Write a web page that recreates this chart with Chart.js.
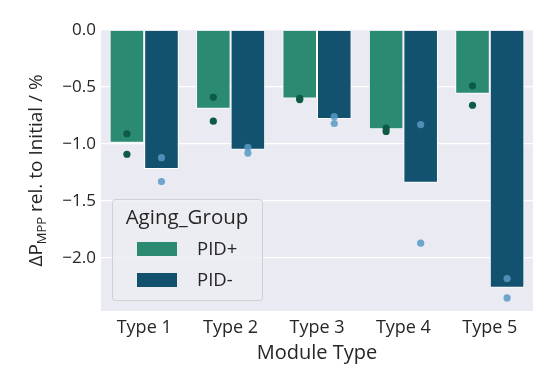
<!DOCTYPE html>
<html>
<head>
<meta charset="utf-8">
<script src="https://cdn.jsdelivr.net/npm/chart.js@4.4.1/dist/chart.umd.min.js"></script>
<style>
  html, body { margin: 0; padding: 0; background: #ffffff; }
  #wrap { position: relative; width: 554px; height: 375px; }
</style>
</head>
<body>
<div id="wrap"><canvas id="chart" width="554" height="375"></canvas></div>
<script>
const categories = ['Type 1', 'Type 2', 'Type 3', 'Type 4', 'Type 5'];
const groups = ['PID+', 'PID-'];
const pidPlusMean = [-0.99, -0.69, -0.60, -0.87, -0.56];
const pidMinusMean = [-1.22, -1.05, -0.78, -1.34, -2.26];
// individual modules per type
const pidPlusPoints = [[-0.91, -1.09], [-0.59, -0.80], [-0.60, -0.61], [-0.86, -0.89], [-0.49, -0.66]];
const pidMinusPoints = [[-1.12, -1.33], [-1.03, -1.08], [-0.76, -0.82], [-0.83, -1.87], [-2.18, -2.35]];
const yTicks = [0, -0.5, -1.0, -1.5, -2.0];

const FONT = "'Open Sans', 'Noto Sans', sans-serif";
const plusColor = '#2b8a72';
const minusColor = '#13526e';
const dotColors = ['#0d5b45', 'rgba(87,153,198,0.85)'];
const pointSets = [pidPlusPoints, pidMinusPoints];

const fmt = v => (v < 0 ? '\u2212' : '') + Math.abs(v).toFixed(1);

const plotBg = {
    id: 'plotBg',
    beforeDraw(chart) {
        const { ctx, chartArea: a } = chart;
        ctx.save();
        ctx.fillStyle = '#eaeaf2';
        ctx.fillRect(a.left, a.top, a.right - a.left, a.bottom - a.top);
        ctx.restore();
    }
};

// strip points, placed on each bar's x and the y scale
const stripDots = {
    id: 'stripDots',
    afterDatasetsDraw(chart) {
        const { ctx } = chart;
        const y = chart.scales.y;
        ctx.save();
        pointSets.forEach((set, d) => {
            const meta = chart.getDatasetMeta(d);
            ctx.fillStyle = dotColors[d];
            set.forEach((vals, i) => {
                const bx = meta.data[i].x;
                vals.forEach(v => {
                    ctx.beginPath();
                    ctx.arc(bx, y.getPixelForValue(v), 3.6, 0, Math.PI * 2);
                    ctx.fill();
                });
            });
        });
        ctx.restore();
    }
};

const yTitle = {
    id: 'yTitle',
    afterDraw(chart) {
        const { ctx, chartArea: a } = chart;
        const cy = (a.top + a.bottom) / 2;
        ctx.save();
        ctx.translate(37, cy);
        ctx.rotate(-Math.PI / 2);
        ctx.fillStyle = '#262626';
        ctx.textBaseline = 'middle';
        const big = '19px ' + FONT, small = '13px ' + FONT;
        const parts = [['\u0394P', big, 0], ['MPP', small, 5], [' rel. to Initial / %', big, 0]];
        let w = 0;
        parts.forEach(p => { ctx.font = p[1]; w += ctx.measureText(p[0]).width; });
        let x = -w / 2;
        parts.forEach(p => {
            ctx.font = p[1];
            ctx.textAlign = 'left';
            ctx.fillText(p[0], x, p[2]);
            x += ctx.measureText(p[0]).width;
        });
        ctx.restore();
    }
};

const boxLegend = {
    id: 'boxLegend',
    afterDraw(chart) {
        const { ctx, chartArea: a } = chart;
        const x0 = a.left + 11, y1 = a.bottom - 11, w = 150, h = 101, y0 = y1 - h;
        ctx.save();
        ctx.fillStyle = 'rgba(236,236,243,0.85)';
        ctx.strokeStyle = '#cfcfd4';
        ctx.lineWidth = 1;
        ctx.beginPath();
        ctx.roundRect(x0 + 0.5, y0 + 0.5, w, h, 3);
        ctx.fill();
        ctx.stroke();
        ctx.fillStyle = '#262626';
        ctx.font = '20.5px ' + FONT;
        ctx.textAlign = 'center';
        ctx.textBaseline = 'middle';
        ctx.fillText('Aging_Group', x0 + w / 2, y0 + 19);
        ctx.font = '18.5px ' + FONT;
        ctx.textAlign = 'left';
        [0, 1].forEach(i => {
            const ds = chart.data.datasets[i];
            const cy = y0 + 50 + i * 31;
            ctx.fillStyle = ds.backgroundColor;
            ctx.fillRect(x0 + 25, cy - 7, 40, 14);
            ctx.fillStyle = '#262626';
            ctx.fillText(ds.label, x0 + 85, cy + 1);
        });
        ctx.restore();
    }
};

new Chart(document.getElementById('chart'), {
    type: 'bar',
    data: {
        labels: categories,
        datasets: [
            {
                label: groups[0], data: pidPlusMean,
                backgroundColor: plusColor, borderColor: '#ffffff', borderWidth: 1,
                categoryPercentage: 0.8, barPercentage: 1.0, borderSkipped: 'start'
            },
            {
                label: groups[1], data: pidMinusMean,
                backgroundColor: minusColor, borderColor: '#ffffff', borderWidth: 1,
                categoryPercentage: 0.8, barPercentage: 1.0, borderSkipped: 'start'
            }
        ]
    },
    options: {
        responsive: false,
        animation: false,
        layout: { padding: { left: 0, top: 30, right: 21, bottom: 0 } },
        plugins: { legend: { display: false }, tooltip: { enabled: false } },
        scales: {
            x: {
                grid: { display: false, drawTicks: false },
                border: { display: false },
                ticks: { color: '#262626', font: { family: FONT, size: 18 }, padding: 6 },
                title: { display: true, text: 'Module Type', color: '#262626', font: { family: FONT, size: 20 }, padding: { top: 0, bottom: 10 } },
                afterFit(s) { s.height = 64; }
            },
            y: {
                min: -2.465, max: 0,
                grid: { color: '#ffffff', lineWidth: 1.3, drawTicks: false },
                border: { display: false },
                ticks: { color: '#262626', font: { family: FONT, size: 17 }, padding: 5, callback: v => fmt(v) },
                afterBuildTicks(s) { s.ticks = yTicks.map(v => ({ value: v })); },
                afterFit(s) { s.width = 101; }
            }
        }
    },
    plugins: [plotBg, stripDots, yTitle, boxLegend]
});
</script>
</body>
</html>
